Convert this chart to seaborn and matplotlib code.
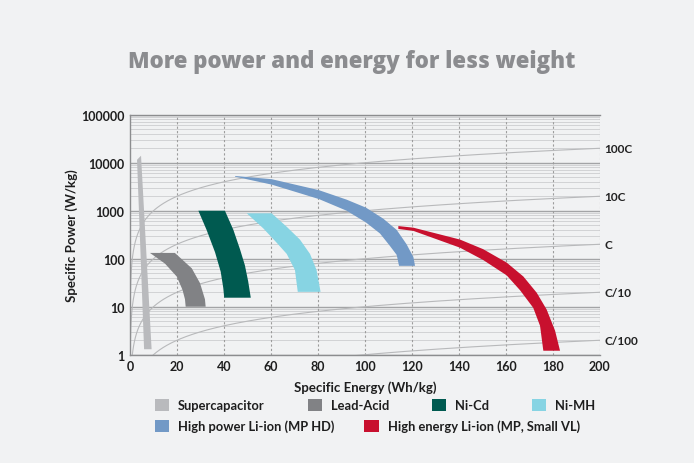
import numpy as np
import matplotlib
matplotlib.use("Agg")
import matplotlib.pyplot as plt
import seaborn as sns
from matplotlib.patches import Patch
from matplotlib.ticker import FixedLocator, LogLocator, NullFormatter

# legend / colours
chem_names = ["Supercapacitor", "Lead-Acid", "Ni-Cd", "Ni-MH",
              "High power Li-ion (MP HD)", "High energy Li-ion (MP, Small VL)"]
chem_colors = ["#b9babd", "#818285", "#005a50", "#87d4e3", "#7299c6", "#c8102e"]

# outlines, energy in Wh/kg, power in W/kg
supercap_energy = [3.0, 4.7, 9.2, 6.0]
supercap_power = [11500, 14000, 1.3, 1.3]

lead_right_e = [19.1, 26.3, 29.8, 31.9, 32.2]
lead_right_p = [132, 63, 31, 14.3, 10]
lead_left_e = [8.5, 14.9, 19.9, 22.3, 23.4, 23.7]
lead_left_p = [132, 79, 42.5, 22.8, 14.3, 10]

nicd_right_e = [40.4, 44.0, 46.8, 48.9, 50.3, 51.4]
nicd_right_p = [1000, 398, 158, 73, 33.7, 15.4]
nicd_left_e = [29.1, 32.6, 36.2, 38.6, 39.7, 40.1]
nicd_left_p = [1000, 398, 136, 53.7, 24.6, 15.4]

nimh_right_e = [60.3, 66.7, 72.3, 76.6, 79.4, 81.1]
nimh_right_p = [883, 463, 251, 126, 58, 20.4]
nimh_left_e = [49.7, 56.7, 62.4, 66.7, 70.2, 71.4]
nimh_left_p = [883, 430, 216, 126, 58, 20.4]

hp_upper_e = [44.7, 60.3, 80.4, 92.2, 100.4, 107.8, 113.5, 117.7, 120.6, 121.3]
hp_upper_p = [5300, 4540, 2680, 1700, 1160, 682, 398, 200, 108, 71]
hp_lower_e = [44.7, 60.3, 80.4, 92.2, 100.4, 106.4, 110.6, 113.5, 114.5]
hp_lower_p = [5130, 3500, 1750, 1000, 570, 335, 185, 120, 71]

he_upper_e = [114.2, 120.6, 140.4, 150.3, 160.3, 167.4, 173.1, 177.3, 180.9, 183.0]
he_upper_p = [479, 443, 251, 158, 83, 42.6, 19.5, 8.75, 3.16, 1.21]
he_lower_e = [114.2, 120.6, 140.4, 150.3, 160.3, 166.0, 171.6, 174.5, 175.9]
he_lower_p = [417, 380, 170, 94, 45, 22, 9.5, 4.0, 1.21]

# constant discharge-rate lines (P = rate * E)
c_rates = [100, 10, 1, 0.1, 0.01]
c_labels = ["100C", "10C", "C", "C/10", "C/100"]

x_ticks = list(range(0, 201, 20))
y_ticks = [1, 10, 100, 1000, 10000, 100000]

sns.set_theme(style="white")
bg = "#f1f2f3"
plt.rcParams["font.family"] = ["Lato", "DejaVu Sans"]

fig = plt.figure(figsize=(6.94, 4.64), dpi=100, facecolor=bg)
ax = fig.add_axes([0.1873, 0.2334, 0.6772, 0.5172])
ax.set_facecolor(bg)

ax.set_yscale("log")
ax.set_xlim(0, 200)
ax.set_ylim(1, 100000)

# grid
ax.yaxis.set_major_locator(FixedLocator(y_ticks))
ax.yaxis.set_minor_locator(LogLocator(base=10, subs=np.arange(2, 10)))
ax.yaxis.set_minor_formatter(NullFormatter())
ax.set_yticks(y_ticks)
ax.set_yticklabels([str(v) for v in y_ticks])
ax.set_xticks(x_ticks)
ax.grid(which="minor", axis="y", color="#d2d3d5", lw=0.7)
ax.grid(which="major", axis="y", color="#a3a4a6", lw=1.0)
for xv in x_ticks[1:]:
    ax.axvline(xv, color="#9c9c9c", lw=0.8, ls=(0, (2, 2)), zorder=1)
ax.set_axisbelow(True)

ax.spines["right"].set_visible(False)
for s in ["left", "bottom", "top"]:
    ax.spines[s].set_color("#8c8d8f")
    ax.spines[s].set_linewidth(1.0)
ax.tick_params(length=0, pad=4, labelsize=9, labelcolor="#1e1e1e")
for lab in ax.get_xticklabels() + ax.get_yticklabels():
    lab.set_fontweight("bold")

# rate lines
e_line = np.geomspace(0.005, 200, 500)
for rate, lab in zip(c_rates, c_labels):
    sns.lineplot(x=e_line, y=rate * e_line, ax=ax, color="#b8b9bb", lw=0.8, zorder=2)
    ax.text(202, rate * 200, lab, fontsize=8.5, fontweight="bold", color="#222222",
            va="center", ha="left", clip_on=False)

# chemistry bands
ax.fill(he_upper_e + he_lower_e[::-1], he_upper_p + he_lower_p[::-1], color=chem_colors[5], lw=0, zorder=3)
ax.fill(hp_upper_e + hp_lower_e[::-1], hp_upper_p + hp_lower_p[::-1], color=chem_colors[4], lw=0, zorder=3)
ax.fill(nimh_right_e + nimh_left_e[::-1], nimh_right_p + nimh_left_p[::-1], color=chem_colors[3], lw=0, zorder=3)
ax.fill(nicd_right_e + nicd_left_e[::-1], nicd_right_p + nicd_left_p[::-1], color=chem_colors[2], lw=0, zorder=3)
ax.fill(lead_right_e + lead_left_e[::-1], lead_right_p + lead_left_p[::-1], color=chem_colors[1], lw=0, zorder=3)
ax.fill(supercap_energy, supercap_power, color=chem_colors[0], lw=0, zorder=4)

ax.set_xlabel("Specific Energy (Wh/kg)", fontsize=9.5, fontweight="bold", color="#1e1e1e", labelpad=6)
ax.set_ylabel("Specific Power (W/kg)", fontsize=9.5, fontweight="bold", color="#1e1e1e", labelpad=2)

fig.text(0.507, 0.866, "More power and energy for less weight", ha="center", va="center",
         fontsize=16, fontweight="heavy", color="#8b8c8f", family=["Open Sans", "DejaVu Sans"])

# legend in two rows
handles = [Patch(facecolor=c, edgecolor="none") for c in chem_colors]
leg_kw = dict(frameon=False, fontsize=9.3, handlelength=1.1, handleheight=1.1,
              handletextpad=0.7, borderpad=0, borderaxespad=0, loc="center left")
leg1 = fig.legend(handles[:4], chem_names[:4], ncol=4, columnspacing=3.3,
                  bbox_to_anchor=(155 / 694, 1 - 406 / 464), **leg_kw)
leg2 = fig.legend(handles[4:], chem_names[4:], ncol=2, columnspacing=2.3,
                  bbox_to_anchor=(155 / 694, 1 - 427 / 464), **leg_kw)
for leg in (leg1, leg2):
    for t in leg.get_texts():
        t.set_color("#1e1e1e")
        t.set_fontweight("bold")

fig.savefig("out.png", dpi=100, facecolor=bg)
